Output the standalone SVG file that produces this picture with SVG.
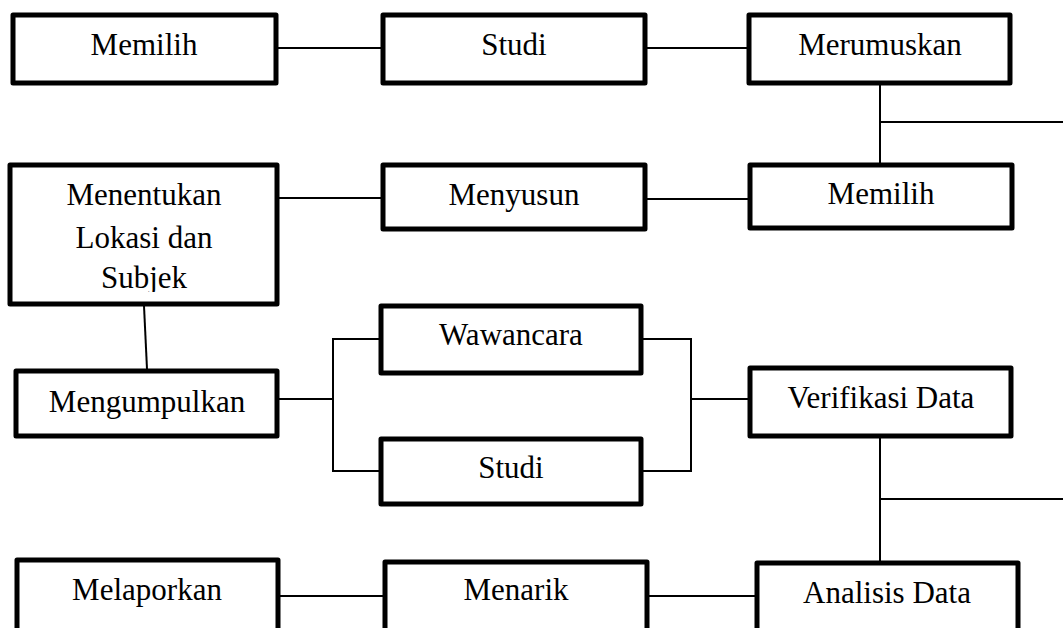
<svg xmlns="http://www.w3.org/2000/svg" width="1063" height="628" viewBox="0 0 1063 628">
<style>
.box{fill:#fff;stroke:#000;stroke-width:5;stroke-linejoin:round}
.lbl{font-family:'Liberation Serif',serif;font-size:31px;fill:#000;text-anchor:middle}
.con{stroke:#000;stroke-width:2;fill:none}
</style>
<defs>
<clipPath id="clipSub"><rect x="0" y="150" width="300" height="142"/></clipPath>
</defs>
<rect width="1063" height="628" fill="#fff"/>
<g id="connectors">
<line class="con" x1="278" y1="48" x2="381" y2="48"/>
<line class="con" x1="645" y1="48" x2="748" y2="48"/>
<line class="con" x1="880" y1="85" x2="880" y2="163"/>
<line class="con" x1="880" y1="122" x2="1063" y2="122"/>
<line class="con" x1="274" y1="198" x2="381" y2="198"/>
<line class="con" x1="645" y1="199" x2="748" y2="199"/>
<line class="con" x1="144" y1="306" x2="147" y2="369"/>
<line class="con" x1="279" y1="399" x2="333" y2="399"/>
<polyline class="con" points="380,339 333,339 333,471 380,471"/>
<polyline class="con" points="643,339 691,339 691,471 643,471"/>
<line class="con" x1="691" y1="399" x2="748" y2="399"/>
<line class="con" x1="880" y1="438" x2="880" y2="561"/>
<line class="con" x1="880" y1="499" x2="1063" y2="499"/>
<line class="con" x1="280" y1="596" x2="383" y2="596"/>
<line class="con" x1="649" y1="596" x2="755" y2="596"/>
</g>
<g id="n-memilih1"><rect class="box" x="13" y="15" width="263" height="68"/><text class="lbl" x="144" y="55" font-family="Liberation Serif">Memilih</text></g>
<g id="n-studi1"><rect class="box" x="383" y="15" width="262" height="68"/><text class="lbl" x="514" y="55">Studi</text></g>
<g id="n-merumuskan"><rect class="box" x="749" y="15" width="261" height="68"/><text class="lbl" x="880" y="55">Merumuskan</text></g>
<g id="n-menentukan"><rect class="box" x="10" y="165" width="267" height="139"/>
<text class="lbl" x="144" y="205">Menentukan</text>
<text class="lbl" x="144" y="248">Lokasi dan</text>
<text class="lbl" x="144" y="288" clip-path="url(#clipSub)">Subjek</text></g>
<g id="n-menyusun"><rect class="box" x="383" y="165" width="262" height="64"/><text class="lbl" x="514" y="205">Menyusun</text></g>
<g id="n-memilih2"><rect class="box" x="750" y="165" width="262" height="63"/><text class="lbl" x="881" y="204">Memilih</text></g>
<g id="n-mengumpulkan"><rect class="box" x="16" y="371" width="261" height="65"/><text class="lbl" x="147" y="412">Mengumpulkan</text></g>
<g id="n-wawancara"><rect class="box" x="381" y="306" width="260" height="67"/><text class="lbl" x="511" y="345">Wawancara</text></g>
<g id="n-studi2"><rect class="box" x="381" y="439" width="260" height="65"/><text class="lbl" x="511" y="478">Studi</text></g>
<g id="n-verifikasi"><rect class="box" x="750" y="368" width="261" height="68"/><text class="lbl" x="881" y="408">Verifikasi Data</text></g>
<g id="n-melaporkan"><rect class="box" x="17" y="560" width="261" height="90"/><text class="lbl" x="147" y="600">Melaporkan</text></g>
<g id="n-menarik"><rect class="box" x="385" y="562" width="262" height="90"/><text class="lbl" x="516" y="600">Menarik</text></g>
<g id="n-analisis"><rect class="box" x="757" y="563" width="261" height="90"/><text class="lbl" x="887" y="603">Analisis Data</text></g>
</svg>
